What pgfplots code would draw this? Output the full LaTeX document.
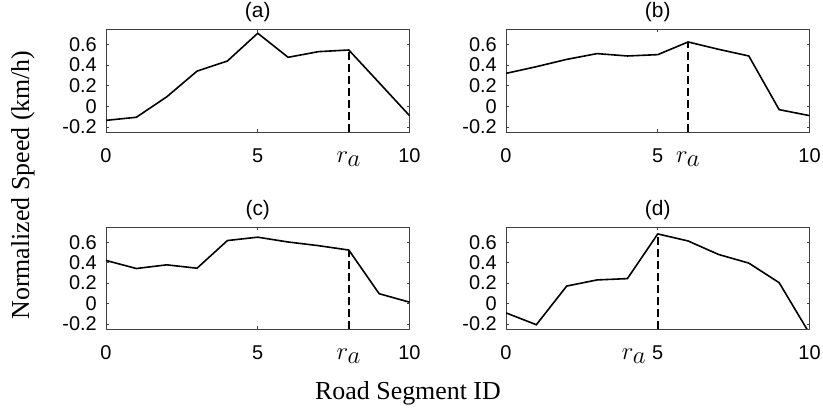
\documentclass[border=0pt]{standalone}
\usepackage{pgfplots}
\pgfplotsset{compat=1.18}
\usepackage{fontspec}
\setmainfont{Liberation Serif}
\newfontfamily\arial{Liberation Sans}

\pgfplotsset{
  panel/.style={
    scale only axis, width=303.5bp, height=103bp,
    xmin=0, xmax=10, ymin=-0.25, ymax=0.75,
    xtick={0,5,10}, xticklabels={0,5,10},
    ytick={-0.2,0,0.2,0.4,0.6}, yticklabels={-0.2,0,0.2,0.4,0.6},
    tick align=inside, major tick length=3bp,
    axis line style={black!75, line width=0.6bp},
    every tick/.style={black!75, line width=0.6bp},
    tick label style={font=\arial\fontsize{20}{20}\selectfont, inner sep=0pt},
    xticklabel style={anchor=base, yshift=-30.5bp},
    yticklabel style={anchor=east, xshift=-9bp},
    title style={font=\arial\fontsize{21}{21}\selectfont, anchor=base, yshift=6bp, inner sep=0pt},
    extra x tick style={major tick length=0pt,
      tick label style={font=\fontsize{33}{33}\selectfont}},
  },
  curve/.style={black, line width=1.6bp},
  ra/.style={black, line width=1.5bp, dash pattern=on 8bp off 4bp},
}

\begin{document}
\begin{tikzpicture}[x=1bp,y=1bp]
\begin{axis}[panel, at={(106bp,277bp)}, anchor=south west, title={(a)},
  extra x ticks={8}, extra x tick labels={$r_a$}]
\addplot[curve] coordinates {(0,-0.137) (1,-0.107) (2,0.091) (3,0.341) (4,0.439) (5,0.709) (6,0.475) (7,0.530) (8,0.546) (9,0.228) (10,-0.091)};
\addplot[ra] coordinates {(8,-0.25) (8,0.546)};
\end{axis}
\begin{axis}[panel, at={(506bp,277bp)}, anchor=south west, title={(b)},
  extra x ticks={6}, extra x tick labels={$r_a$}]
\addplot[curve] coordinates {(0,0.319) (1,0.384) (2,0.455) (3,0.511) (4,0.488) (5,0.501) (6,0.624) (7,0.553) (8,0.488) (9,-0.033) (10,-0.091)};
\addplot[ra] coordinates {(6,-0.25) (6,0.624)};
\end{axis}
\begin{axis}[panel, height=102bp, at={(106bp,80bp)}, anchor=south west, title={(c)},
  extra x ticks={8}, extra x tick labels={$r_a$}]
\addplot[curve] coordinates {(0,0.422) (1,0.343) (2,0.379) (3,0.346) (4,0.617) (5,0.650) (6,0.603) (7,0.567) (8,0.524) (9,0.096) (10,0.013)};
\addplot[ra] coordinates {(8,-0.25) (8,0.524)};
\end{axis}
\begin{axis}[panel, height=102bp, at={(506bp,80bp)}, anchor=south west, title={(d)},
  extra x ticks={4.22}, extra x tick labels={$r_a$}]
\addplot[curve] coordinates {(0,-0.092) (1,-0.208) (2,0.171) (3,0.231) (4,0.244) (5,0.682) (6,0.613) (7,0.481) (8,0.396) (9,0.204) (10,-0.294)};
\addplot[ra] coordinates {(5,-0.25) (5,0.682)};
\end{axis}
\node[rotate=90, font=\fontsize{26}{26}\selectfont, inner sep=0pt] at (23bp,224bp) {Normalized Speed (km/h)};
\node[font=\fontsize{26}{26}\selectfont, anchor=base, inner sep=0pt] at (408bp,10bp) {Road Segment ID};
\pgfresetboundingbox
\path[use as bounding box] (0,0) rectangle (823bp,409bp);
\end{tikzpicture}
\end{document}
